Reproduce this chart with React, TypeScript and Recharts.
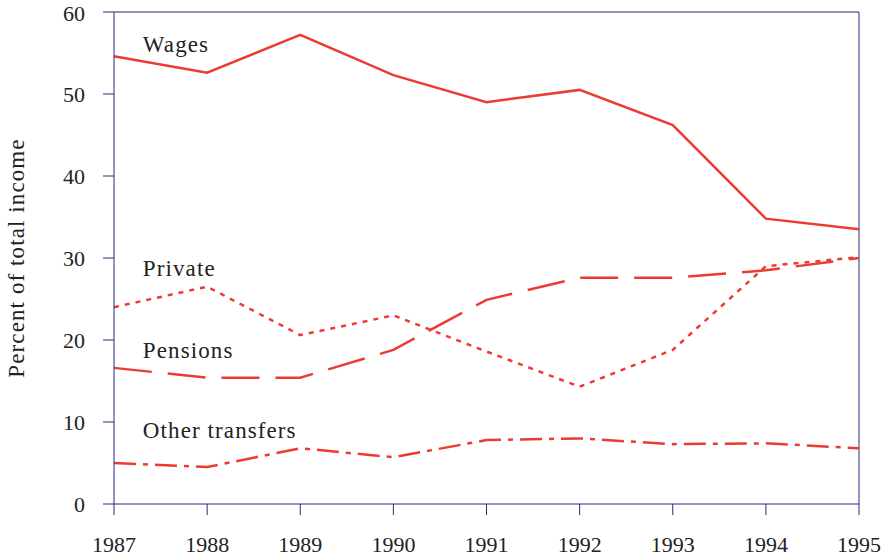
import React from 'react';
import { LineChart, Line, XAxis, YAxis, ReferenceLine, ReferenceDot, Label } from 'recharts';

const years = [1987, 1988, 1989, 1990, 1991, 1992, 1993, 1994, 1995];
const wages = [54.6, 52.6, 57.2, 52.3, 49.0, 50.5, 46.2, 34.8, 33.5];
const privateIncome = [24.0, 26.5, 20.6, 23.0, 18.6, 14.3, 18.8, 29.0, 30.1];
const pensions = [16.6, 15.4, 15.4, 18.8, 24.9, 27.6, 27.6, 28.5, 30.0];
const otherTransfers = [5.0, 4.5, 6.8, 5.7, 7.8, 8.0, 7.3, 7.4, 6.8];
const yTicks = [0, 10, 20, 30, 40, 50, 60];

const seriesLabels = [
  { text: 'Wages', x: 1987.31, y: 56.1 },
  { text: 'Private', x: 1987.31, y: 28.8 },
  { text: 'Pensions', x: 1987.31, y: 18.8 },
  { text: 'Other transfers', x: 1987.31, y: 9.0 },
];

const data = years.map((year, i) => ({
  year,
  wages: wages[i],
  private: privateIncome[i],
  pensions: pensions[i],
  other: otherTransfers[i],
}));

const AXIS = '#262a78';
const RED = '#ec3b33';
const FONT = '"Liberation Serif", "DejaVu Serif", serif';
const tickStyle = { fontFamily: FONT, fontSize: 22, fill: '#222' };

export default function App() {
  return (
    <div style={{ position: 'absolute', left: 0, top: 0 }}>
      <LineChart width={889} height={559} data={data} margin={{ top: 12, right: 30, left: 0, bottom: 0 }}>
        <XAxis
          dataKey="year"
          type="number"
          domain={[1987, 1995]}
          ticks={years}
          interval={0}
          height={55}
          tickSize={11}
          tickMargin={21}
          stroke={AXIS}
          tick={tickStyle}
          tickLine={{ stroke: AXIS }}
        />
        <YAxis
          domain={[0, 60]}
          ticks={yTicks}
          width={114}
          tickSize={11}
          tickMargin={18}
          stroke={AXIS}
          tick={tickStyle}
          tickLine={{ stroke: AXIS }}
        >
          <Label
            value="Percent of total income"
            angle={-90}
            position="insideLeft"
            offset={16}
            style={{ fontFamily: FONT, fontSize: 23, letterSpacing: 1.1, fill: '#222', textAnchor: 'middle' }}
          />
        </YAxis>
        <ReferenceLine y={60} stroke={AXIS} />
        <ReferenceLine x={1995} stroke={AXIS} />
        <Line type="linear" dataKey="wages" stroke={RED} strokeWidth={2.5} dot={false} isAnimationActive={false} />
        <Line type="linear" dataKey="private" stroke={RED} strokeWidth={2.5} strokeDasharray="5 6" dot={false} isAnimationActive={false} />
        <Line type="linear" dataKey="pensions" stroke={RED} strokeWidth={2.5} strokeDasharray="38 16" dot={false} isAnimationActive={false} />
        <Line type="linear" dataKey="other" stroke={RED} strokeWidth={2.5} strokeDasharray="22 7 5 7" dot={false} isAnimationActive={false} />
        {seriesLabels.map((l) => (
          <ReferenceDot key={l.text} x={l.x} y={l.y} r={0} fill="none" stroke="none">
            <Label
              value={l.text}
              position="right"
              offset={0}
              style={{ fontFamily: FONT, fontSize: 23, letterSpacing: 1.1, fill: '#222' }}
            />
          </ReferenceDot>
        ))}
      </LineChart>
    </div>
  );
}
